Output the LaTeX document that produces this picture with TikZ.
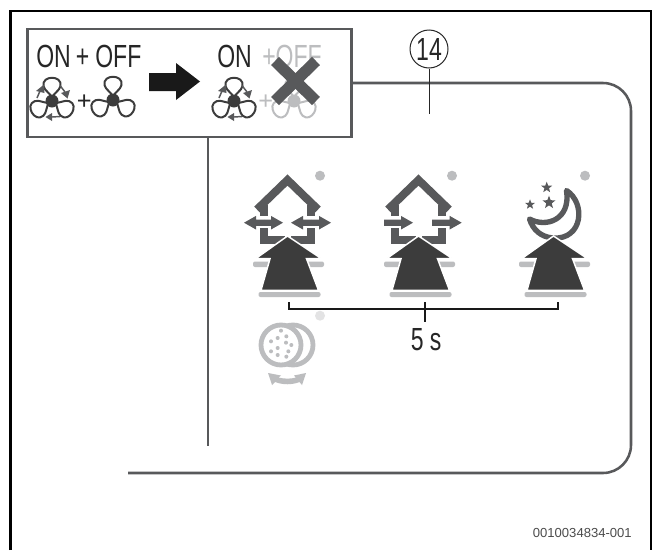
\documentclass[tikz,border=0pt]{standalone}
\usepackage{fontspec}
\setmainfont{Liberation Sans}
\definecolor{dk}{HTML}{3C3C3C}
\definecolor{md}{HTML}{58595B}
\definecolor{lg}{HTML}{BCBDBF}
\definecolor{vl}{HTML}{E3E3E4}
\newcommand\cond[1]{\scalebox{.72}[1]{#1}}
\tikzset{
  frameline/.style={draw=md,line width=1.9pt},
  bigtxt/.style={font=\fontsize{24}{24}\selectfont,inner sep=0pt,anchor=base west,text=black!85},
  plustxt/.style={font=\fontsize{19}{19}\selectfont,inner sep=0pt,anchor=base west,text=black!85},
  leader/.style={draw=black!85,line width=0.75pt},
  housestroke/.style={draw=md,line width=5.5pt,line join=miter,line cap=butt},
  flowarrow/.style={fill=md,draw=none},
}
\newcommand\fanblades[4]{%
 \begin{scope}[shift={(#1,#2)}]
  \foreach \a in {90,-30,210}{
   \draw[#3,line width=1.5pt,rotate=\a,line join=round]
     (3,0) .. controls (8,-1.5) and (10,-7.5) .. (15,-8.5)
     .. controls (26,-10.5) and (26,10.5) .. (15,8.5)
     .. controls (10,7.5) and (8,1.5) .. (3,0);
  }
  \fill[#4] (0,0) circle (6.5);
 \end{scope}}
\newcommand\fanarrows[2]{%
 \begin{scope}[shift={(#1,#2)}]
  \draw[md,line width=1.1pt] (8,-15.5) -- (13,-9);
  \fill[md] (15.5,-2.5) -- (9,-8) -- (18,-11) -- cycle;
  \draw[md,line width=1.1pt] (-15,-3) -- (-12,-10);
  \fill[md] (-8,-16.5) -- (-16,-10) -- (-7.5,-8) -- cycle;
  \draw[md,line width=1.1pt] (8,15.5) -- (0,16);
  \fill[md] (-6.5,16) -- (0,12) -- (0,20) -- cycle;
 \end{scope}}
\newcommand\bigup[1]{%
 \begin{scope}[shift={(#1,0)}]
  \fill[lg,rounded corners=1.5pt] (-35.5,261.5) rectangle (35.5,267);
  \fill[lg,rounded corners=1.5pt] (-30,292) rectangle (32,297);
  \filldraw[fill=dk,draw=white,line width=1.1pt,miter limit=8]
    (-1,236) -- (33,258.7) -- (18,258.7) -- (30,290.3) -- (-27.5,290.3) -- (-18.5,258.7) -- (-33,258.7) -- cycle;
 \end{scope}}
\newcommand\house[1]{%
 \begin{scope}[shift={(#1,0)}]
  \draw[housestroke,line width=6pt] (-31.5,209.5) -- (-1,180) -- (29.5,209.5);
  \draw[housestroke] (-24.5,205) -- (-24.5,216);
  \draw[housestroke] (22.5,205) -- (22.5,216);
  \draw[housestroke] (-24.5,228) -- (-24.5,240) -- (-4,240);
  \draw[housestroke] (22.5,228) -- (22.5,240) -- (2,240);
 \end{scope}}
\newcommand\harrow[3]{%
  \fill[flowarrow] (#1,#3-3.2) -- ({#2-12*sign(#2-#1)},#3-3.2) -- ({#2-12*sign(#2-#1)},#3-6.8) -- (#2,#3) -- ({#2-12*sign(#2-#1)},#3+6.8) -- ({#2-12*sign(#2-#1)},#3+3.2) -- (#1,#3+3.2) -- cycle;}
\newcommand\starp[3]{%
  \fill[md,shift={(#1,#2)}] (-90:#3) -- (-54:#3*.42) -- (-18:#3) -- (18:#3*.42) -- (54:#3) -- (90:#3*.42) -- (126:#3) -- (162:#3*.42) -- (198:#3) -- (234:#3*.42) -- cycle;}
\begin{document}
\begin{tikzpicture}[x=0.75pt,y=-0.75pt]
\useasboundingbox (0,0) rectangle (659,550);
\fill[white] (0,0) rectangle (659,550);
\coordinate (fa) at (10.5,550);
\coordinate (fb) at (10.5,11);
\coordinate (fc) at (651,11);
\coordinate (fd) at (651,550);
\draw[black,line width=1.8pt] (fa) -- (fb) -- (fc) -- (fd);
\coordinate (ma) at (352,83);
\coordinate (mb) at (631,83);
\coordinate (mc) at (631,473);
\coordinate (md) at (128,473);
\draw[frameline,rounded corners=21pt] (ma) -- (mb) -- (mc) -- (md);
\coordinate (la) at (208,137);
\coordinate (lb) at (208,446);
\draw[frameline] (la) -- (lb);
\node[draw=md,line width=1.9pt,fill=white,minimum width=243pt,minimum height=81pt,inner sep=0pt,anchor=north west] (inset) at (26,27.5) {};
\node[bigtxt] (t1) at (36,67) {\cond{ON}};
\node[bigtxt] (t2) at (75.5,67) {\cond{+}};
\node[bigtxt] (t3) at (95,67) {\cond{OFF}};
\node[bigtxt] (t4) at (217,67) {\cond{ON}};
\node[bigtxt,text=lg] (t5) at (262,67) {\cond{+OFF}};
\fanblades{52}{101}{draw=dk}{dk}
\fanarrows{52}{101}
\node[plustxt] (p1) at (76.6,109) {+};
\fanblades{113}{100}{draw=dk}{dk}
\fill[black!90] (149,73) -- (176,73) -- (176,63) -- (200,81.5) -- (176,100) -- (176,91) -- (149,91) -- cycle;
\fanblades{234}{101}{draw=dk}{dk}
\fanarrows{234}{101}
\node[plustxt,text=lg] (p2) at (258,109) {+};
\fanblades{294}{101}{draw=lg}{lg}
\draw[md,line width=8.5pt] (275,61) -- (316,101);
\draw[md,line width=8.5pt] (316,61) -- (275,101);
\node[circle,draw=black!85,line width=0.75pt,minimum size=28.5pt,inner sep=0pt] (c14) at (429,49) {};
\node[font=\fontsize{24}{24}\selectfont,text=black!85,inner sep=0pt] (n14) at (429,49.5) {\cond{14}};
\coordinate (cend) at (429,114);
\draw[leader] (c14.south) -- (cend);
\foreach \x in {320,452,585} \fill[lg] (\x,175.7) circle (5);
\fill[vl] (320,315.7) circle (5);
\house{288.5}
\harrow{264}{244}{222.7}\harrow{264}{283}{222.7}
\harrow{311}{291}{222.7}\harrow{311}{331}{222.7}
\house{419.5}
\harrow{384}{413}{222.7}
\harrow{432}{461.7}{222.7}
\draw[md,line width=4pt,line join=round]
  (529.5,219) .. controls (546,228) and (571,220) .. (566.5,190.5)
  .. controls (586,203) and (583,240) .. (553,238)
  .. controls (541,237) and (533,230) .. (529.5,219) -- cycle;
\starp{546.7}{187.5}{5.8}
\starp{530}{204.5}{5.2}
\starp{549}{202.5}{6.8}
\bigup{288.5}\bigup{419.5}\bigup{554.5}
\coordinate (ba) at (289,302);
\coordinate (bb) at (289,309);
\coordinate (bc) at (557.7,309);
\coordinate (bd) at (557.7,302);
\coordinate (me) at (425,302);
\coordinate (mf) at (425,322);
\draw[black!90,line width=1.3pt] (ba) -- (bb) -- (bc) -- (bd);
\draw[black!90,line width=1.3pt] (me) -- (mf);
\node[bigtxt] (s5) at (410.5,350.5) {\cond{5}};
\node[bigtxt] (ss) at (429.5,350.5) {\cond{s}};
\draw[lg,line width=3.6pt] (293,345) circle (20);
\filldraw[fill=white,draw=lg,line width=3.6pt] (281,345) circle (20);
\foreach \u/\v in {183/122,199/139,173/144,153/154,198/158,214/165,173/174,153/184,205/184,173/195,199/200}
  \fill[lg] ({220+\u/3},{290+\v/3}) circle (2);
\fill[lg] (268,373) -- (281,375.5) -- (278.5,377.5) .. controls (284,379) and (291,379) .. (296,377.5) -- (294,375.5) -- (306,373) -- (302,385) -- (299.5,382) .. controls (292,385) and (283,385) .. (275,382) -- (272,385) -- cycle;
\node[font=\fontsize{9.8}{10}\selectfont,text=black!70,inner sep=0pt,anchor=base east] (code) at (632,537) {0010034834-001};
\end{tikzpicture}
\end{document}
